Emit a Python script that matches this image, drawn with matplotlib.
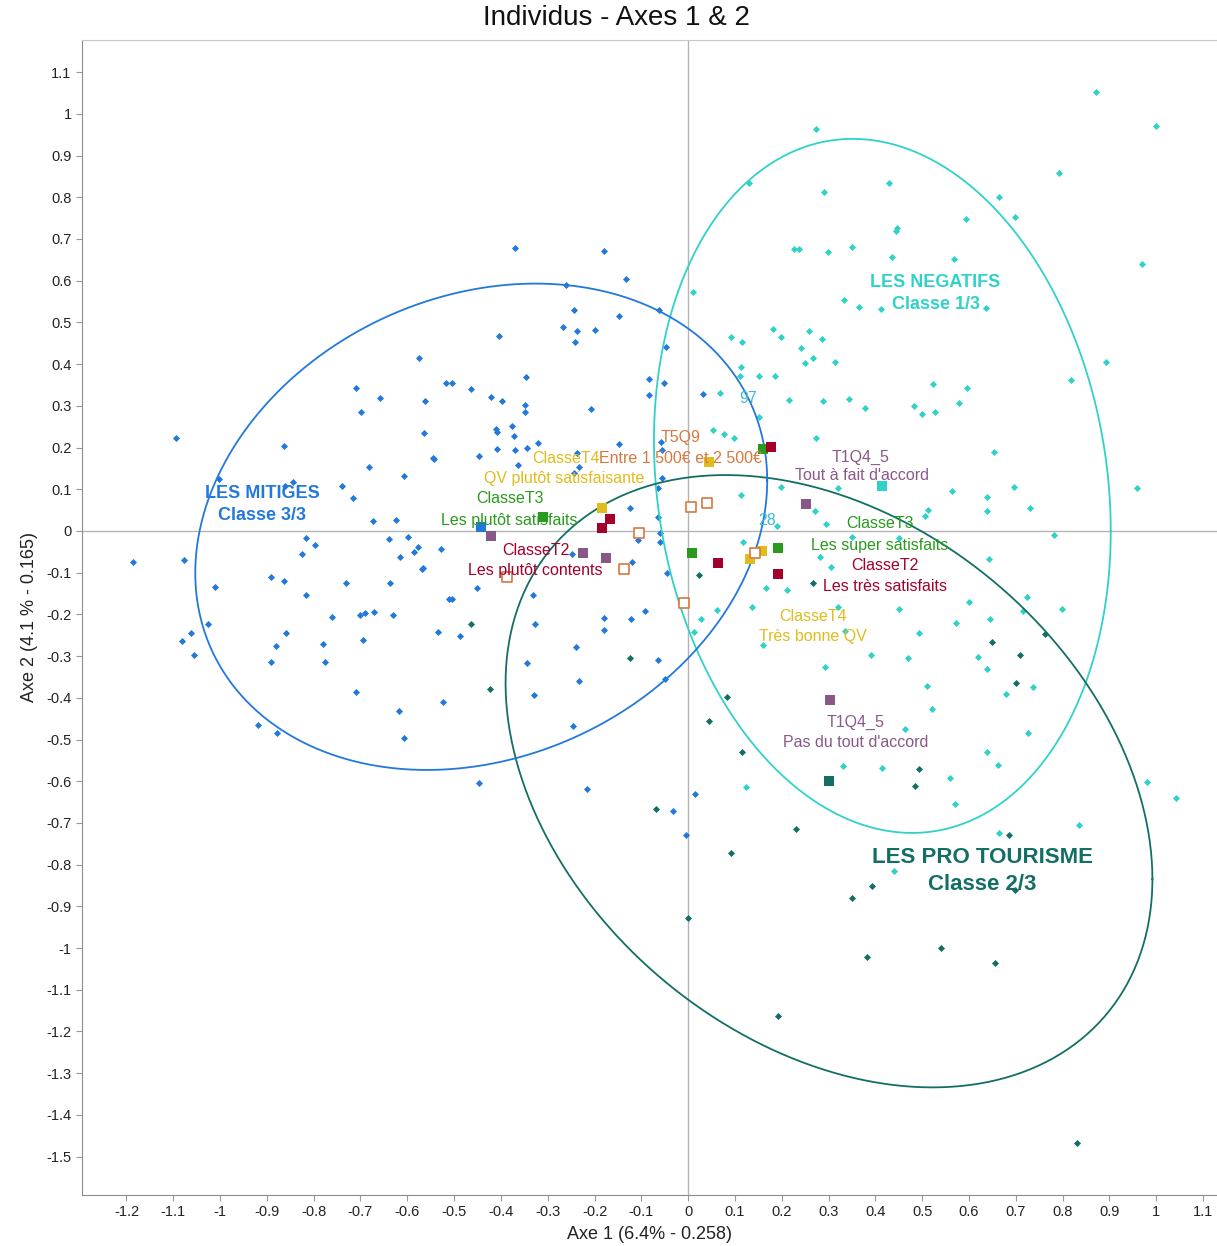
import numpy as np
import matplotlib
matplotlib.use("Agg")
import matplotlib.pyplot as plt

plt.rcParams['font.family'] = ['Liberation Sans', 'DejaVu Sans']

# ---------------- data ----------------
# Class 3/3 "LES MITIGES" individuals (blue)
mitiges_x = [-1.094, -1.186, -1.077, -1.011, -1.026, -1.062, -1.081, -1.056, -0.891, -0.863,
             -0.816, -0.797, -0.825, -0.816, -0.731, -0.639, -0.598, -0.577, -0.585, -0.528,
             -0.615, -0.568, -0.637, -0.511, -0.761, -0.701, -0.690, -0.671, -0.630, -0.859,
             -0.880, -0.891, -0.780, -0.776, -0.694, -0.534, -0.709, -0.618, -0.607, -0.524,
             -0.919, -0.878, -0.863, -1.002, -0.844, -0.861, -0.739, -0.716, -0.682, -0.607,
             -0.673, -0.624, -0.543, -0.564, -0.562, -0.575, -0.517, -0.709, -0.658, -0.699,
             -0.370, -0.179, -0.132, -0.261, -0.244, -0.147, -0.062, -0.267, -0.237, -0.199,
             -0.241, -0.404, -0.047, -0.346, -0.504, -0.464, -0.421, -0.397, -0.348, -0.348,
             -0.376, -0.410, -0.207, -0.083, -0.083, -0.051, -0.408, -0.372, -0.321, -0.408,
             -0.370, -0.344, -0.447, -0.545, -0.363, -0.237, -0.233, -0.244, -0.147, -0.058,
             -0.056, -0.056, -0.064, -0.124, -0.064, -0.060, -0.060, -0.566, -0.248, -0.120,
             -0.107, -0.045, -0.451, -0.504, -0.331, -0.179, -0.122, -0.092, -0.179, -0.327,
             -0.487, -0.239, -0.344, -0.064, -0.233, -0.049, -0.329, -0.246, -0.447, -0.216,
             0.015, -0.032, -0.004, 0.032]
mitiges_y = [0.223, -0.074, -0.070, -0.134, -0.223, -0.245, -0.264, -0.297, -0.110, -0.120,
             -0.017, -0.034, -0.055, -0.153, -0.125, -0.019, -0.014, -0.038, -0.050, -0.043,
             -0.062, -0.091, -0.125, -0.163, -0.206, -0.201, -0.197, -0.194, -0.201, -0.245,
             -0.276, -0.314, -0.271, -0.314, -0.261, -0.242, -0.386, -0.432, -0.496, -0.410,
             -0.465, -0.484, 0.204, 0.125, 0.118, 0.108, 0.108, 0.079, 0.153, 0.132,
             0.024, 0.026, 0.173, 0.235, 0.312, 0.415, 0.355, 0.343, 0.319, 0.285,
             0.679, 0.671, 0.604, 0.590, 0.530, 0.516, 0.530, 0.489, 0.480, 0.482,
             0.453, 0.468, 0.441, 0.369, 0.355, 0.341, 0.321, 0.312, 0.302, 0.285,
             0.252, 0.245, 0.293, 0.365, 0.326, 0.355, 0.237, 0.228, 0.211, 0.197,
             0.194, 0.199, 0.180, 0.175, 0.158, 0.187, 0.153, 0.139, 0.209, 0.213,
             0.194, 0.127, 0.103, 0.055, 0.034, -0.005, -0.026, -0.089, -0.055, -0.074,
             -0.022, -0.101, -0.137, -0.163, -0.153, -0.209, -0.211, -0.192, -0.237, -0.223,
             -0.252, -0.278, -0.317, -0.309, -0.360, -0.355, -0.393, -0.468, -0.604, -0.619,
             -0.631, -0.671, -0.729, 0.329]

# Class 1/3 "LES NEGATIFS" individuals (cyan)
negatifs_x = [0.872, 1.000, 0.274, 0.130, 0.291, 0.429, 0.793, 0.665, 0.699, 0.594,
              0.447, 0.444, 0.226, 0.237, 0.299, 0.350, 0.436, 0.568, 0.970, 0.333,
              0.365, 0.412, 0.637, 0.182, 0.199, 0.259, 0.286, 0.092, 0.115, 0.241,
              0.267, 0.250, 0.314, 0.113, 0.111, 0.152, 0.186, 0.893, 0.818, 0.068,
              0.216, 0.288, 0.344, 0.378, 0.483, 0.500, 0.528, 0.579, 0.524, 0.596,
              0.152, 0.654, 0.564, 0.697, 0.639, 0.731, 0.639, 0.959, 0.782, 0.643,
              0.724, 0.600, 0.799, 0.716, 0.645, 0.053, 0.077, 0.098, 0.274, 0.113,
              0.199, 0.321, 0.513, 0.506, 0.271, 0.295, 0.190, 0.451, 0.350, 0.118,
              0.282, 0.306, 0.212, 0.167, 0.137, 0.062, 0.451, 0.494, 0.335, 0.470,
              0.293, 0.160, 0.321, 0.573, 0.391, 0.620, 0.639, 0.511, 0.679, 0.737,
              0.521, 0.464, 0.726, 0.639, 0.662, 0.331, 0.415, 0.560, 0.124, 0.571,
              0.835, 0.665, 0.981, 1.043, 0.440, 0.011, 0.028, 0.013]
negatifs_y = [1.053, 0.971, 0.964, 0.835, 0.813, 0.835, 0.859, 0.801, 0.753, 0.748,
              0.727, 0.719, 0.676, 0.676, 0.669, 0.681, 0.657, 0.652, 0.640, 0.554,
              0.537, 0.532, 0.535, 0.484, 0.465, 0.480, 0.460, 0.465, 0.453, 0.439,
              0.415, 0.403, 0.405, 0.393, 0.372, 0.372, 0.372, 0.405, 0.362, 0.331,
              0.314, 0.312, 0.317, 0.295, 0.300, 0.281, 0.285, 0.307, 0.353, 0.343,
              0.273, 0.189, 0.096, 0.106, 0.082, 0.055, 0.048, 0.103, -0.010, -0.067,
              -0.158, -0.170, -0.187, -0.192, -0.211, 0.242, 0.233, 0.223, 0.223, 0.086,
              0.106, 0.103, 0.050, 0.036, 0.048, 0.017, 0.012, -0.017, -0.014, -0.026,
              -0.062, -0.086, -0.141, -0.137, -0.182, -0.189, -0.187, -0.245, -0.240, -0.305,
              -0.326, -0.273, -0.182, -0.221, -0.297, -0.302, -0.331, -0.372, -0.391, -0.374,
              -0.427, -0.475, -0.484, -0.530, -0.561, -0.564, -0.568, -0.592, -0.614, -0.655,
              -0.705, -0.724, -0.602, -0.640, -0.815, 0.573, -0.211, -0.242]

# Class 2/3 "LES PRO TOURISME" individuals (dark teal)
pro_x = [-0.464, -0.423, -0.124, 0.024, 0.045, -0.068, 0.000, 0.083, 0.115, 0.092,
         0.231, 0.350, 0.393, 0.382, 0.541, 0.656, 0.192, 0.831, 0.494, 0.485,
         0.686, 0.650, 0.763, 0.709, 0.701, 0.699, 0.267]
pro_y = [-0.223, -0.379, -0.305, -0.106, -0.456, -0.667, -0.928, -0.398, -0.530, -0.772,
         -0.715, -0.880, -0.851, -1.022, -1.000, -1.036, -1.163, -1.468, -0.571, -0.612,
         -0.729, -0.266, -0.247, -0.297, -0.365, -0.861, -0.125]

# Class centroids (x, y) and confidence ellipse shape (sx, sy, correlation)
class_names = ["LES NEGATIFS", "LES PRO TOURISME", "LES MITIGES"]
centroid_x = [0.415, 0.301, -0.442]
centroid_y = [0.108, -0.600, 0.010]
ellipse_sx = [0.488, 0.691, 0.611]
ellipse_sy = [0.832, 0.734, 0.583]
ellipse_r = [-0.13, -0.32, 0.19]

# Supplementary modalities
t4_x = [-0.184, 0.045, 0.132, 0.158]            # ClasseT4 (yellow)
t4_y = [0.055, 0.165, -0.067, -0.048]
t3_x = [-0.310, 0.009, 0.160, 0.192]            # ClasseT3 (green)
t3_y = [0.034, -0.053, 0.197, -0.041]
t2_x = [-0.167, -0.184, 0.064, 0.177, 0.192]    # ClasseT2 (red)
t2_y = [0.029, 0.007, -0.077, 0.201, -0.103]
t1q4_x = [-0.421, -0.224, -0.175, 0.252, 0.303]  # T1Q4_5 (purple)
t1q4_y = [-0.012, -0.053, -0.065, 0.065, -0.405]
t5q9_x = [-0.105, -0.137, -0.387, 0.006, 0.041, -0.009, 0.143]  # T5Q9 (open orange)
t5q9_y = [-0.005, -0.091, -0.110, 0.058, 0.067, -0.173, -0.053]

x_ticks = [-1.2, -1.1, -1, -0.9, -0.8, -0.7, -0.6, -0.5, -0.4, -0.3, -0.2, -0.1,
           0, 0.1, 0.2, 0.3, 0.4, 0.5, 0.6, 0.7, 0.8, 0.9, 1, 1.1]
y_ticks = [1.1, 1, 0.9, 0.8, 0.7, 0.6, 0.5, 0.4, 0.3, 0.2, 0.1, 0, -0.1, -0.2, -0.3,
           -0.4, -0.5, -0.6, -0.7, -0.8, -0.9, -1, -1.1, -1.2, -1.3, -1.4, -1.5]

# ---------------- style ----------------
C_NEG = "#30D2C8"
C_PRO = "#136F66"
C_MIT = "#2378DC"
C_YEL = "#E0BC1C"
C_GRN = "#2A9A1E"
C_RED = "#A3002C"
C_PUR = "#8A5888"
C_ORG = "#D8783E"
class_colors = [C_NEG, C_PRO, C_MIT]

fig = plt.figure(figsize=(12.17, 12.46), dpi=100)
ax = fig.add_axes([82 / 1217, 1 - 1195 / 1246, 1 - 82 / 1217, (1195 - 40) / 1246])
ax.set_xlim(-1.295, 1.13)
ax.set_ylim(-1.592, 1.177)

ax.axhline(0, color="#B4B4B4", lw=1.0, zorder=1)
ax.axvline(0, color="#B4B4B4", lw=1.0, zorder=1)

pt_kw = dict(marker="D", s=13, linewidths=0, zorder=3)
ax.scatter(mitiges_x, mitiges_y, color=C_MIT, **pt_kw)
ax.scatter(negatifs_x, negatifs_y, color=C_NEG, **pt_kw)
ax.scatter(pro_x, pro_y, color=C_PRO, **pt_kw)

t = np.linspace(0, 2 * np.pi, 400)
for cx, cy, sx, sy, r, col in zip(centroid_x, centroid_y, ellipse_sx, ellipse_sy, ellipse_r, class_colors):
    ex = cx + sx * np.cos(t)
    ey = cy + sy * (r * np.cos(t) + np.sqrt(1 - r * r) * np.sin(t))
    ax.plot(ex, ey, color=col, lw=1.3, zorder=4)

sq_kw = dict(marker="s", s=50, linewidths=0, zorder=5)
ax.scatter(centroid_x, centroid_y, color=class_colors, **sq_kw)
ax.scatter(t4_x, t4_y, color=C_YEL, **sq_kw)
ax.scatter(t3_x, t3_y, color=C_GRN, **sq_kw)
ax.scatter(t2_x, t2_y, color=C_RED, **sq_kw)
ax.scatter(t1q4_x, t1q4_y, color=C_PUR, **sq_kw)
ax.scatter(t5q9_x, t5q9_y, marker="s", s=50, facecolors="white", edgecolors=C_ORG,
           linewidths=1.2, zorder=5)

FS = 11.5
labels = [
    ("T5Q9", -0.017, 0.223, C_ORG, FS, "normal"),
    ("Entre 1 500€ et 2 500€", -0.017, 0.173, C_ORG, FS, "normal"),
    ("ClasseT4", -0.261, 0.173, C_YEL, FS, "normal"),
    ("QV plutôt satisfaisante", -0.265, 0.125, C_YEL, FS, "normal"),
    ("ClasseT3", -0.380, 0.077, C_GRN, FS, "normal"),
    ("Les plutôt satisfaits", -0.382, 0.026, C_GRN, FS, "normal"),
    ("ClasseT2", -0.325, -0.046, C_RED, FS, "normal"),
    ("Les plutôt contents", -0.327, -0.096, C_RED, FS, "normal"),
    ("97", 0.128, 0.317, "#3DB8DA", FS, "normal"),
    ("28", 0.169, 0.026, "#3DB8DA", FS, "normal"),
    ("T1Q4_5", 0.368, 0.177, C_PUR, FS, "normal"),
    ("Tout à fait d'accord", 0.372, 0.132, C_PUR, FS, "normal"),
    ("ClasseT3", 0.410, 0.017, C_GRN, FS, "normal"),
    ("Les super satisfaits", 0.410, -0.034, C_GRN, FS, "normal"),
    ("ClasseT2", 0.421, -0.084, C_RED, FS, "normal"),
    ("Les très satisfaits", 0.421, -0.134, C_RED, FS, "normal"),
    ("ClasseT4", 0.267, -0.204, C_YEL, FS, "normal"),
    ("Très bonne QV", 0.267, -0.252, C_YEL, FS, "normal"),
    ("T1Q4_5", 0.357, -0.458, C_PUR, FS, "normal"),
    ("Pas du tout d'accord", 0.359, -0.506, C_PUR, FS, "normal"),
    ("LES NEGATIFS", 0.528, 0.595, C_NEG, 13, "bold"),
    ("Classe 1/3", 0.530, 0.544, C_NEG, 13, "bold"),
    ("LES MITIGES", -0.910, 0.089, C_MIT, 13, "bold"),
    ("Classe 3/3", -0.910, 0.036, C_MIT, 13, "bold"),
    ("LES PRO TOURISME", 0.628, -0.784, C_PRO, 16, "bold"),
    ("Classe 2/3", 0.628, -0.847, C_PRO, 16, "bold"),
]
for txt, x, y, col, fs, fw in labels:
    ax.text(x, y, txt, color=col, fontsize=fs, fontweight=fw, ha="center", va="center", zorder=6)

ax.set_xticks(x_ticks)
ax.set_xticklabels([f"{v:g}" for v in x_ticks])
ax.set_yticks(y_ticks)
ax.set_yticklabels([f"{v:g}" for v in y_ticks])
ax.tick_params(axis="both", labelsize=10.5, labelcolor="#222222", length=4, width=0.8,
               direction="out", color="#999999")

for side in ["top", "right"]:
    ax.spines[side].set_color("#C8C8C8")
for side in ["left", "bottom"]:
    ax.spines[side].set_color("#8C8C8C")
ax.spines["right"].set_visible(False)

ax.set_xlabel("Axe 1 (6.4% - 0.258)", fontsize=13, color="#222222", labelpad=5)
ax.set_ylabel("Axe 2 (4.1 % - 0.165)", fontsize=13, color="#222222", labelpad=6)
fig.text(616 / 1217, 1 - 18 / 1246, "Individus - Axes 1 & 2", ha="center", va="center",
         fontsize=20, color="#111111")

fig.savefig("out.png", dpi=100)
